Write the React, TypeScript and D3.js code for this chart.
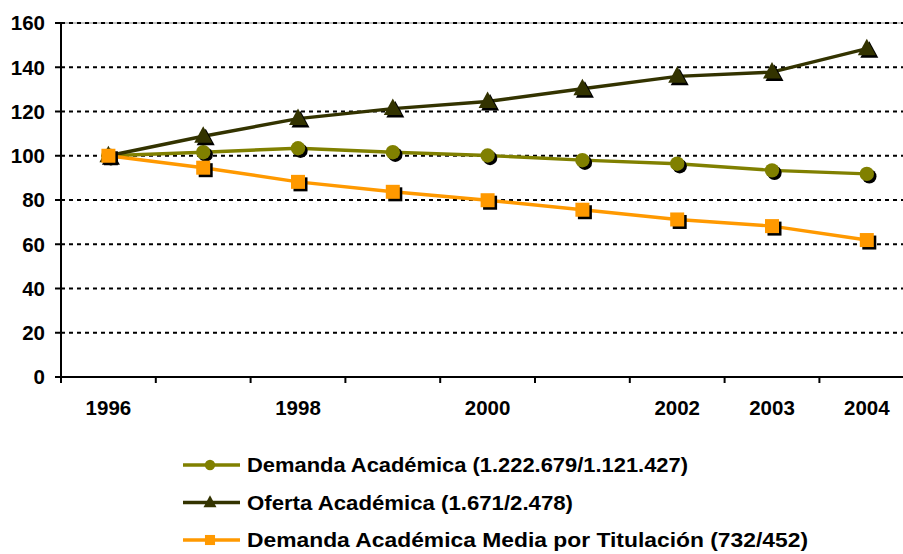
import React from "react";
import * as d3 from "d3";

const categories = ["1996", "1997", "1998", "1999", "2000", "2001", "2002", "2003", "2004"];
const tickLabels = ["1996", "", "1998", "", "2000", "", "2002", "2003", "2004"];
const demanda = [100, 101.6, 103.4, 101.6, 100.1, 98.0, 96.4, 93.4, 91.8];
const oferta = [100, 108.8, 116.8, 121.3, 124.5, 130.3, 135.9, 137.8, 148.4];
const mediaTit = [100, 94.6, 88.2, 83.7, 79.9, 75.6, 71.2, 68.2, 61.9];
const yTicks = [0, 20, 40, 60, 80, 100, 120, 140, 160];

const series = [
  { name: "Demanda Académica (1.222.679/1.121.427)", values: demanda, color: "#808000", shape: "circle", tl: 441 },
  { name: "Oferta Académica (1.671/2.478)", values: oferta, color: "#333300", shape: "triangle", tl: 326 },
  { name: "Demanda Académica Media por Titulación (732/452)", values: mediaTit, color: "#FF9900", shape: "square", tl: 561 },
];

const W = 903;
const H = 554;
const left = 61;
const top = 23;
const bottom = 377;
const step = 94.8;

function marker(shape: string, x: number, y: number, fill: string, scale = 1, key?: string) {
  if (shape === "circle") return <circle key={key} cx={x} cy={y} r={7.2 * scale} fill={fill} />;
  if (shape === "square") {
    const s = 7 * scale;
    return <rect key={key} x={x - s} y={y - s} width={2 * s} height={2 * s} fill={fill} />;
  }
  const hw = 9 * scale;
  const up = 10 * scale;
  const dn = 6.5 * scale;
  return <path key={key} d={`M${x},${y - up}L${x + hw},${y + dn}L${x - hw},${y + dn}Z`} fill={fill} />;
}

export default function App() {
  const x = d3.scaleBand<string>().domain(categories).range([left, left + step * categories.length]).padding(0);
  const y = d3.scaleLinear().domain([0, 160]).range([bottom, top]);
  const cx = (c: string) => (x(c) as number) + x.bandwidth() / 2;
  const line = d3
    .line<number>()
    .x((_, i) => cx(categories[i]))
    .y((v) => y(v));
  const font = "'Liberation Sans', Arial, sans-serif";

  return (
    <svg width={W} height={H} style={{ position: "absolute", left: 0, top: 0, background: "#fff", fontFamily: font }}>
      {/* gridlines */}
      {yTicks.filter((t) => t > 0).map((t) => (
        <g key={"g" + t}>
          {t === 160 && <line x1={left} x2={W} y1={y(t)} y2={y(t)} stroke="#888" strokeWidth={1} />}
          <line x1={left} x2={W} y1={y(t)} y2={y(t)} stroke="#000" strokeWidth={2} strokeDasharray="4,4" />
        </g>
      ))}
      {/* y axis */}
      <line x1={left} x2={left} y1={top} y2={bottom + 6} stroke="#000" strokeWidth={2} />
      {yTicks.map((t) => (
        <g key={"y" + t}>
          <line x1={left - 6} x2={left} y1={y(t)} y2={y(t)} stroke="#000" strokeWidth={2} />
          <text x={45} y={y(t)} dy="0.36em" textAnchor="end" fontSize={20.5} fontWeight="bold" fill="#000">
            {t}
          </text>
        </g>
      ))}
      {/* x axis */}
      <line x1={left} x2={W} y1={bottom} y2={bottom} stroke="#000" strokeWidth={2} />
      {categories.map((c, i) => (
        <g key={"x" + c}>
          <line x1={x(c) as number} x2={x(c) as number} y1={bottom} y2={bottom + 6} stroke="#000" strokeWidth={2} />
          <text x={cx(c)} y={415} textAnchor="middle" fontSize={20.5} fontWeight="bold" fill="#000">
            {tickLabels[i]}
          </text>
        </g>
      ))}
      {/* series */}
      {series.map((s) => (
        <g key={s.name}>
          <path d={line(s.values) || ""} fill="none" stroke={s.color} strokeWidth={3.4} />
          {s.values.map((v, i) => marker(s.shape, cx(categories[i]) + 2.5, y(v) + 2.5, "#000", 1, "sh" + i))}
          {s.values.map((v, i) => marker(s.shape, cx(categories[i]), y(v), s.color, 1, "m" + i))}
        </g>
      ))}
      {/* legend */}
      {series.map((s, i) => {
        const ly = 465 + i * 37.5;
        return (
          <g key={"l" + i}>
            <line x1={183} x2={240} y1={ly} y2={ly} stroke={s.color} strokeWidth={3.4} />
            {marker(s.shape, 210, ly, s.color, 0.72)}
            <text x={247} y={ly} dy="0.36em" fontSize={19.5} fontWeight="bold" fill="#000" textLength={s.tl} lengthAdjust="spacingAndGlyphs">
              {s.name}
            </text>
          </g>
        );
      })}
    </svg>
  );
}
